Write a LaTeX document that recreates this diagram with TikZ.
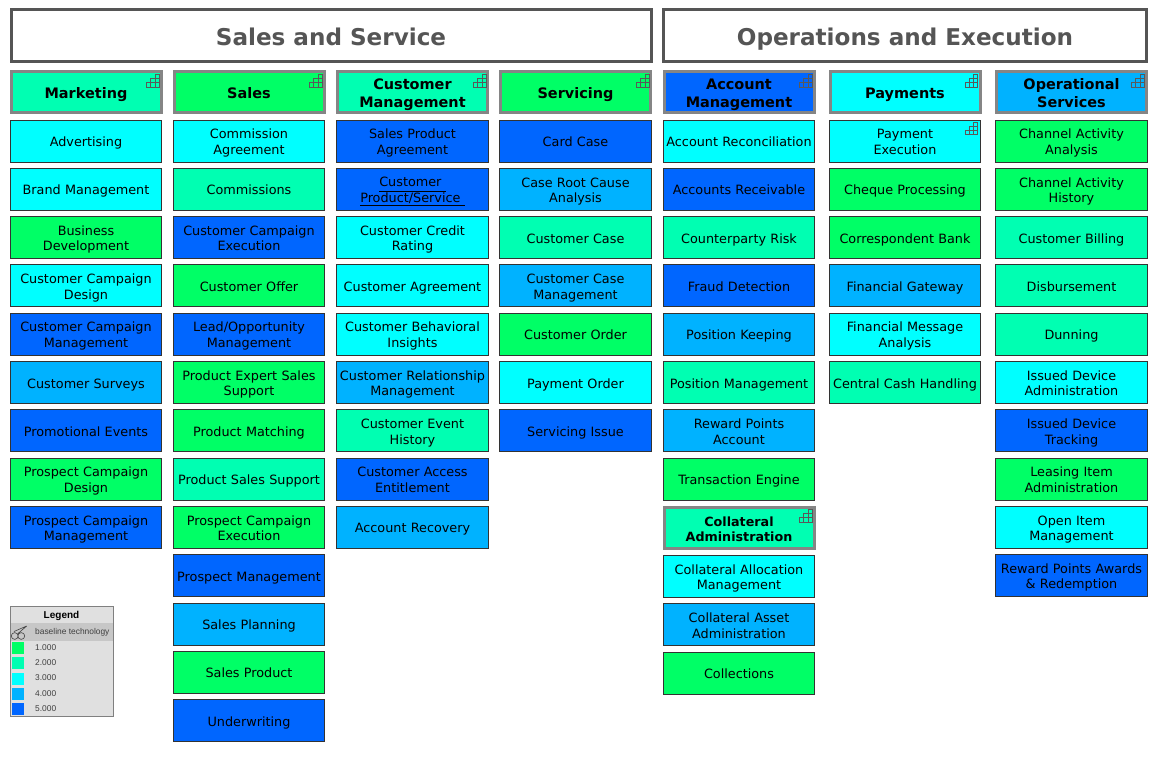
\documentclass[tikz,border=0pt]{standalone}
\usepackage{fontspec}
\setmainfont{DejaVu Sans}
\newfontfamily\legendfont{Liberation Sans}
\usetikzlibrary{positioning}
\definecolor{lvla}{HTML}{00FF66}
\definecolor{lvlb}{HTML}{00FFB2}
\definecolor{lvlc}{HTML}{00FFFF}
\definecolor{lvld}{HTML}{00B2FF}
\definecolor{lvle}{HTML}{0066FF}
\definecolor{framegray}{HTML}{555555}
\definecolor{headgray}{HTML}{858585}
\tikzset{
  title/.style = {draw=framegray, line width=3pt, fill=white, minimum height=52pt,
    text height=22pt, text depth=3pt,
    text=framegray, font=\fontsize{23.1}{28}\selectfont\bfseries, outer sep=0pt},
  head/.style = {draw=headgray, line width=3pt, text width=150pt, minimum height=41pt,
    align=center, inner sep=0pt, outer sep=0pt,
    execute at begin node={\vrule width 0pt height 16.5pt depth 0pt},
    execute at end node={\vrule width 0pt height 0pt depth 3.5pt},
    font=\fontsize{14.45}{17.5}\selectfont\bfseries},
  cap/.style = {draw=black!80, line width=0.9pt, text width=151.5pt, minimum height=42pt,
    align=center, inner sep=0pt, outer sep=0pt, below=6.3pt of #1,
    execute at begin node={\vrule width 0pt height 14pt depth 0pt},
    execute at end node={\vrule width 0pt height 0pt depth 3pt},
    font=\fontsize{12.8}{15.5}\selectfont},
  capb/.style = {cap=#1, fill=lvlb},
  capa/.style = {cap=#1, fill=lvla},
  capc/.style = {cap=#1, fill=lvlc},
  capd/.style = {cap=#1, fill=lvld},
  cape/.style = {cap=#1, fill=lvle},
  stairs/.pic = {
    \draw [black!65, line width=0.4pt] (-12.5,0) rectangle (0,-4.5)
      (-8.5,-4.5) rectangle (0,-8.5) (-4,-8.5) rectangle (0,-12.5)
      (-8.5,0) -- (-8.5,-4.5) (-4,0) -- (-4,-8.5);
  },
  swatch/.style = {minimum width=12pt, minimum height=12pt, inner sep=0pt, outer sep=0pt},
  lgdtext/.style = {inner sep=0pt, font=\legendfont\fontsize{8.4}{10}\selectfont, text=black!75}
}
\begin{document}
\begin{tikzpicture}[x=1pt, y=-1pt]
\useasboundingbox (0,0) rectangle (1157,757);

\node [title, minimum width=640pt] (sales_service) at (331,36) {Sales and Service};
\node [title, minimum width=483pt] (ops_exec) at (905,36) {Operations and Execution};

% Marketing
\node [head, fill=lvlb] (marketing) at (86,92) {Marketing};
\node [capc=marketing, yshift=-1.2pt] (advertising) {Advertising};
\node [capc=advertising] (brand) {Brand Management};
\node [capa=brand] (busdev) {Business\\Development};
\node [capc=busdev] (campdesign) {Customer Campaign\\Design};
\node [cape=campdesign] (campmgmt) {Customer Campaign\\Management};
\node [capd=campmgmt] (surveys) {Customer Surveys};
\node [cape=surveys] (promo) {Promotional Events};
\node [capa=promo] (prosdesign) {Prospect Campaign\\Design};
\node [cape=prosdesign] (prosmgmt) {Prospect Campaign\\Management};

% Sales
\node [head, fill=lvla] (sales) at (249,92) {Sales};
\node [capc=sales, yshift=-1.2pt] (comagree) {Commission\\Agreement};
\node [capb=comagree] (commissions) {Commissions};
\node [cape=commissions] (campexec) {Customer Campaign\\Execution};
\node [capa=campexec] (offer) {Customer Offer};
\node [cape=offer] (lead) {Lead/Opportunity\\Management};
\node [capa=lead] (expert) {Product Expert Sales\\Support};
\node [capa=expert] (matching) {Product Matching};
\node [capb=matching] (salessup) {Product Sales Support};
\node [capa=salessup] (prosexec) {Prospect Campaign\\Execution};
\node [cape=prosexec] (prospect) {Prospect Management};
\node [capd=prospect] (planning) {Sales Planning};
\node [capa=planning] (salesprod) {Sales Product};
\node [cape=salesprod] (underwriting) {Underwriting};

% Customer Management
\node [head, fill=lvlb] (custmgmt) at (412.5,92) {Customer\\Management};
\node [cape=custmgmt, yshift=-1.2pt] (prodagree) {Sales Product\\Agreement};
\node [cape=prodagree] (prodserv) {\underline{Customer\vphantom{p}~}\\\underline{Product/Service~}};
\node [capc=prodserv] (credit) {Customer Credit\\Rating};
\node [capc=credit] (custagree) {Customer Agreement};
\node [capc=custagree] (insights) {Customer Behavioral\\Insights};
\node [capd=insights] (relation) {Customer Relationship\\Management};
\node [capb=relation] (evhistory) {Customer Event\\History};
\node [cape=evhistory] (entitle) {Customer Access\\Entitlement};
\node [capd=entitle] (recovery) {Account Recovery};

% Servicing
\node [head, fill=lvla] (servicing) at (575.5,92) {Servicing};
\node [cape=servicing, yshift=-1.2pt] (cardcase) {Card Case};
\node [capd=cardcase] (rootcause) {Case Root Cause\\Analysis};
\node [capb=rootcause] (custcase) {Customer Case};
\node [capd=custcase] (casemgmt) {Customer Case\\Management};
\node [capa=casemgmt] (custorder) {Customer Order};
\node [capc=custorder] (payorder) {Payment Order};
\node [cape=payorder] (issue) {Servicing Issue};

% Account Management
\node [head, fill=lvle] (account) at (739,92) {Account\\Management};
\node [capc=account, yshift=-1.2pt] (reconcile) {Account Reconciliation};
\node [cape=reconcile] (receivable) {Accounts Receivable};
\node [capb=receivable] (counter) {Counterparty Risk};
\node [cape=counter] (fraud) {Fraud Detection};
\node [capd=fraud] (poskeep) {Position Keeping};
\node [capb=poskeep] (posmgmt) {Position Management};
\node [capd=posmgmt] (reward) {Reward Points\\Account};
\node [capa=reward] (engine) {Transaction Engine};
\node [head, fill=lvlb, below=7pt of engine, font=\fontsize{12.7}{15.5}\selectfont\bfseries] (collateral) {Collateral\\Administration};
\node [capc=collateral, yshift=-1.2pt] (allocation) {Collateral Allocation\\Management};
\node [capd=allocation] (asset) {Collateral Asset\\Administration};
\node [capa=asset] (collections) {Collections};

% Payments
\node [head, fill=lvlc] (payments) at (905,92) {Payments};
\node [capc=payments, yshift=-1.2pt] (payexec) {Payment\\Execution};
\node [capa=payexec] (cheque) {Cheque Processing};
\node [capa=cheque] (correspond) {Correspondent Bank};
\node [capd=correspond] (gateway) {Financial Gateway};
\node [capc=gateway] (message) {Financial Message\\Analysis};
\node [capb=message] (cash) {Central Cash Handling};

% Operational Services
\node [head, fill=lvld] (opserv) at (1071.5,92) {Operational\\Services};
\node [capa=opserv, yshift=-1.2pt] (chanalysis) {Channel Activity\\Analysis};
\node [capa=chanalysis] (chhistory) {Channel Activity\\History};
\node [capb=chhistory] (billing) {Customer Billing};
\node [capb=billing] (disburse) {Disbursement};
\node [capb=disburse] (dunning) {Dunning};
\node [capc=dunning] (devadmin) {Issued Device\\Administration};
\node [cape=devadmin] (devtrack) {Issued Device\\Tracking};
\node [capa=devtrack] (leasing) {Leasing Item\\Administration};
\node [capc=leasing] (openitem) {Open Item\\Management};
\node [cape=openitem] (awards) {Reward Points Awards\\\& Redemption};

% sub-level markers
\pic at (159,87) {stairs};
\pic at (322,87) {stairs};
\pic at (486,87) {stairs};
\pic at (649,87) {stairs};
\pic at (812,87) {stairs};
\pic at (977.5,87) {stairs};
\pic at (1144,87) {stairs};
\pic at (812,522) {stairs};
\pic at (977.5,134.5) {stairs};

% Legend
\node [draw=black!50, fill=black!12, minimum width=103pt, minimum height=110pt, inner sep=0pt, outer sep=0pt] (legend) at (61.5,661.5) {};
\node [fill=black!22, minimum width=102pt, minimum height=18pt, inner sep=0pt, below=16.5pt of legend.north] (lgdbase) {};
\node [below=5pt of legend.north, inner sep=0pt, font=\legendfont\fontsize{10}{12}\selectfont\bfseries] (lgdtitle) {Legend};
\node [lgdtext, anchor=west] (lgdtech) at (35,632) {baseline technology};
\draw [black!75, line width=0.6pt] (14.7,636) circle (3.4) (21.3,636) circle (3.4)
  (14,631.5) -- (26.7,626) (18,633.5) -- (26.7,626);
\node [swatch, fill=lvla] (swa) at (18,648) {};
\node [swatch, fill=lvlb] (swb) at (18,663) {};
\node [swatch, fill=lvlc] (swc) at (18,678.5) {};
\node [swatch, fill=lvld] (swd) at (18,693.5) {};
\node [swatch, fill=lvle] (swe) at (18,708.5) {};
\node [lgdtext, anchor=west] (txa) at (35,647.5) {1.000};
\node [lgdtext, anchor=west] (txb) at (35,663) {2.000};
\node [lgdtext, anchor=west] (txc) at (35,678) {3.000};
\node [lgdtext, anchor=west] (txd) at (35,693.5) {4.000};
\node [lgdtext, anchor=west] (txe) at (35,708.5) {5.000};
\end{tikzpicture}
\end{document}
